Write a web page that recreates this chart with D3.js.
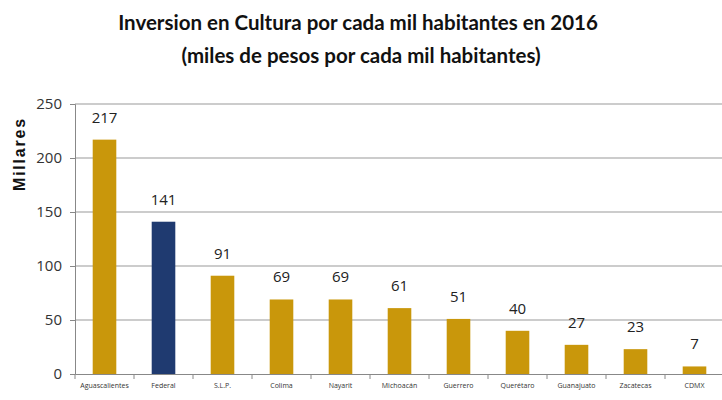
<!DOCTYPE html>
<html>
<head>
<meta charset="utf-8">
<script src="https://cdn.jsdelivr.net/npm/d3@7"></script>
<style>
  body { margin: 0; background: #fff; }
  svg { display: block; }
</style>
</head>
<body>
<svg id="chart" width="722" height="400"></svg>
<script>
const estados = ["Aguascalientes", "Federal", "S.L.P.", "Colima", "Nayarit", "Michoacán",
                 "Guerrero", "Querétaro", "Guanajuato", "Zacatecas", "CDMX"];
const inversion = [217, 141, 91, 69, 69, 61, 51, 40, 27, 23, 7];
const yTicks = [0, 50, 100, 150, 200, 250];

const GOLD = "#c9970b";
const NAVY = "#1f3a70";

const svg = d3.select("#chart");

const x = d3.scaleBand().domain(estados).range([75, 724]);
const y = d3.scaleLinear().domain([0, 250]).range([374, 104]);

// titles
svg.append("text")
    .attr("x", 358).attr("y", 30)
    .attr("text-anchor", "middle")
    .attr("font-family", "Lato, 'Open Sans', sans-serif")
    .attr("font-weight", "bold")
    .attr("font-size", 20.5)
    .attr("fill", "#111")
    .text("Inversion en Cultura por cada mil habitantes en 2016");
svg.append("text")
    .attr("x", 361).attr("y", 63)
    .attr("text-anchor", "middle")
    .attr("font-family", "Lato, 'Open Sans', sans-serif")
    .attr("font-weight", "bold")
    .attr("font-size", 20.5)
    .attr("fill", "#111")
    .text("(miles de pesos por cada mil habitantes)");

// grid
svg.append("g").selectAll("line")
    .data(yTicks.slice(1))
    .join("line")
    .attr("x1", 75).attr("x2", 722)
    .attr("y1", d => y(d)).attr("y2", d => y(d))
    .attr("stroke", "#9a9a9a")
    .attr("stroke-width", 1.2);

// y axis
const yAxis = svg.append("g")
    .attr("transform", "translate(75,0)")
    .call(d3.axisLeft(y).tickValues(yTicks).tickSize(5).tickPadding(8));
yAxis.select(".domain").attr("stroke", "#888");
yAxis.selectAll(".tick line").attr("stroke", "#888");
yAxis.selectAll("text")
    .attr("font-family", "'Open Sans', sans-serif")
    .attr("font-size", 15)
    .attr("fill", "#333");

svg.append("text")
    .attr("transform", "translate(25,154) rotate(-90)")
    .attr("text-anchor", "middle")
    .attr("font-family", "'Liberation Sans', Arial, sans-serif")
    .attr("font-weight", "bold")
    .attr("font-size", 16)
    .attr("letter-spacing", 1.8)
    .attr("fill", "#111")
    .text("Millares");

// bars
const barW = x.bandwidth() * 0.4;
svg.append("g").selectAll("rect")
    .data(estados)
    .join("rect")
    .attr("x", d => x(d) + (x.bandwidth() - barW) / 2)
    .attr("y", (d, i) => y(inversion[i]))
    .attr("width", barW)
    .attr("height", (d, i) => y(0) - y(inversion[i]))
    .attr("fill", d => d === "Federal" ? NAVY : GOLD);

// value labels
svg.append("g").selectAll("text")
    .data(estados)
    .join("text")
    .attr("x", d => x(d) + x.bandwidth() / 2)
    .attr("y", (d, i) => y(inversion[i]) - 17)
    .attr("text-anchor", "middle")
    .attr("font-family", "'Open Sans', sans-serif")
    .attr("font-size", 15)
    .attr("fill", "#222")
    .text((d, i) => inversion[i]);

// x axis
const xAxis = svg.append("g")
    .attr("transform", "translate(0,374)")
    .call(d3.axisBottom(x).tickSize(0).tickPadding(9));
xAxis.select(".domain").attr("stroke", "#888");
xAxis.selectAll("text")
    .attr("font-family", "'Open Sans', sans-serif")
    .attr("font-size", 7)
    .attr("fill", "#333");
xAxis.selectAll(".sep")
    .data(estados)
    .join("line")
    .attr("class", "sep")
    .attr("x1", d => x(d)).attr("x2", d => x(d))
    .attr("y1", 0).attr("y2", 5)
    .attr("stroke", "#888");
</script>
</body>
</html>
